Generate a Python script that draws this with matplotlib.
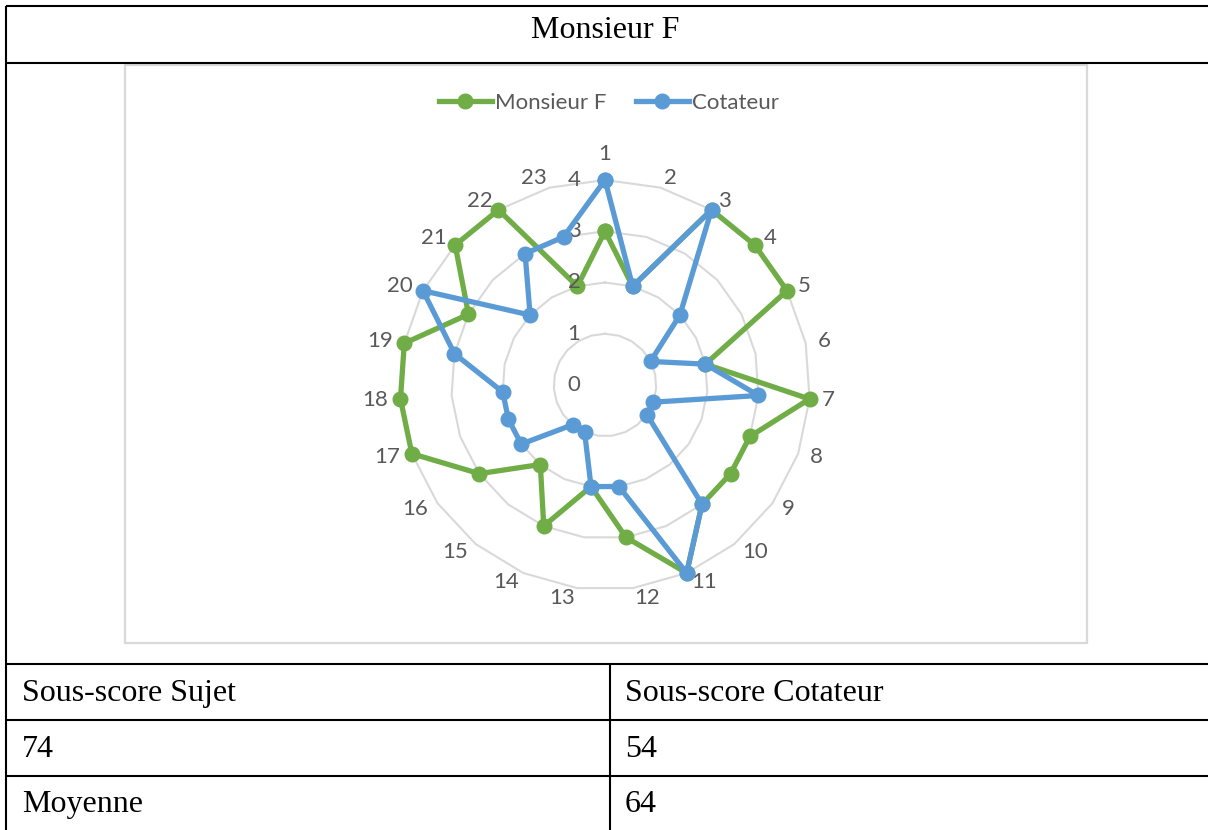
import numpy as np
import matplotlib
matplotlib.use("Agg")
import matplotlib.pyplot as plt
from matplotlib.patches import Rectangle

# ---- data ----
categories = [str(i) for i in range(1, 24)]
monsieur_f = [3, 2, 4, 4, 4, 2, 4, 3, 3, 3, 4, 3, 2, 3, 2, 3, 4, 4, 4, 3, 4, 4, 2]
cotateur = [4, 2, 4, 2, 1, 2, 3, 1, 1, 3, 4, 2, 2, 1, 1, 2, 2, 2, 3, 4, 2, 3, 3]
radial_ticks = [0, 1, 2, 3, 4]
series_names = ["Monsieur F", "Cotateur"]
title_text = "Monsieur F"
table_header = ["Sous-score Sujet", "Sous-score Cotateur"]
table_row1 = ["74", "54"]
table_row2 = ["Moyenne", "64"]

W, H = 1208, 830
GREEN = "#70AD47"
BLUE = "#5B9BD5"
GRID = "#D9D9D9"
TXT = "#595959"
CHART_FONT = "Lato"
SERIF = "Liberation Serif"
FS = 16

fig = plt.figure(figsize=(W / 100, H / 100), dpi=100)

# background axes in pixel coordinates for the table
bg = fig.add_axes([0, 0, 1, 1])
bg.set_xlim(0, W)
bg.set_ylim(H, 0)
bg.axis("off")

lw = 1.5
for (x0, x1, y0, y1) in [(6, W, 6.5, 6.5), (6, 6, 6, H), (6, W, 63.5, 63.5),
                         (6, W, 663.5, 663.5), (6, W, 720, 720), (6, W, 776, 776),
                         (610, 610, 663.5, H)]:
    bg.plot([x0, x1], [y0, y1], color="black", lw=lw, solid_capstyle="butt")

bg.add_patch(Rectangle((125, 65), 962, 578, fill=False, edgecolor=GRID, lw=1.6))

kw = dict(va="baseline", fontsize=23, family=SERIF, color="black")
bg.text(605, 38, title_text, ha="center", **kw)
bg.text(22, 700.5, table_header[0], ha="left", **kw)
bg.text(625, 700.5, table_header[1], ha="left", **kw)
bg.text(22, 756.5, table_row1[0], ha="left", **kw)
bg.text(625, 756.5, table_row1[1], ha="left", **kw)
bg.text(22, 811.5, table_row2[0], ha="left", **kw)
bg.text(625, 811.5, table_row2[1], ha="left", **kw)

# radar axes
cx, cy, R = 605, 385, 205
ax = fig.add_axes([(cx - R) / W, (H - cy - R) / H, 2 * R / W, 2 * R / H], projection="polar")
ax.set_facecolor("none")
ax.set_theta_zero_location("N")
ax.set_theta_direction(-1)
rmax = max(radial_ticks)
ax.set_ylim(0, rmax)
ax.grid(False)
ax.spines["polar"].set_visible(False)
ax.set_xticks([])
ax.set_yticks([])

n = len(categories)
angles = np.arange(n) * 2 * np.pi / n
ang_closed = np.append(angles, angles[0])

for r in radial_ticks[1:]:
    ax.plot(ang_closed, [r] * (n + 1), color=GRID, lw=1.5, zorder=1, clip_on=False)

g = np.append(monsieur_f, monsieur_f[0])
b = np.append(cotateur, cotateur[0])
ax.plot(ang_closed, g, color=GREEN, lw=3.8, marker="o", markersize=10.5, zorder=3,
        clip_on=False, label=series_names[0])
ax.plot(ang_closed, b, color=BLUE, lw=3.8, marker="o", markersize=10.5, zorder=4,
        clip_on=False, label=series_names[1])

for i, (a, lab) in enumerate(zip(angles, categories)):
    s, c = np.sin(a), np.cos(a)
    ha = "left" if s > 0.01 else ("right" if s < -0.01 else "center")
    dy = c * 10 + (16 if i == 0 else 0)
    ax.annotate(lab, xy=(a, rmax), xytext=(s * 12, dy), textcoords="offset pixels",
                ha=ha, va="center", fontsize=FS, family=CHART_FONT, color=TXT,
                annotation_clip=False)

for r in radial_ticks:
    ax.annotate(str(r), xy=(0, r), xytext=(-31, 0), textcoords="offset pixels",
                ha="center", va="center", fontsize=FS, family=CHART_FONT, color=TXT,
                annotation_clip=False)

leg = fig.legend(loc="center", bbox_to_anchor=(609 / W, 1 - 103 / H), ncol=2,
                 frameon=False, prop={"family": CHART_FONT, "size": FS},
                 handlelength=2.4, handletextpad=0.15, columnspacing=1.3, borderpad=0)
for t in leg.get_texts():
    t.set_color(TXT)

fig.savefig("out.png", dpi=100)
